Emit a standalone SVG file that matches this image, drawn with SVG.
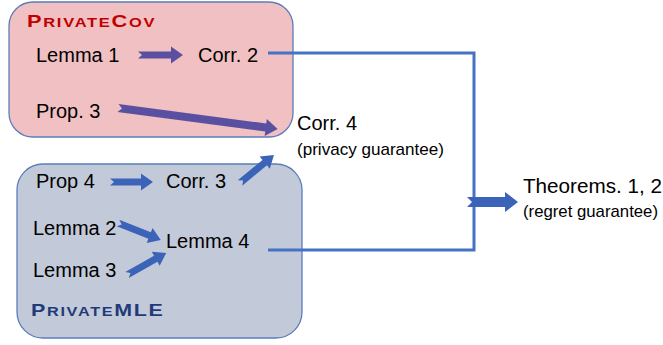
<svg xmlns="http://www.w3.org/2000/svg" width="663" height="345" viewBox="0 0 663 345">
<style>
  .lbl { font-family: "Liberation Sans", Arial, sans-serif; font-size: 20px; fill: #000; }
  .sub { font-family: "Liberation Sans", Arial, sans-serif; font-size: 17px; fill: #000; }
  .title { font-family: "Liberation Sans", Arial, sans-serif; font-weight: bold; letter-spacing: 1.3px; }
  .big { font-size: 16.5px; }
  .small { font-size: 12.5px; }
  .arrP { fill: #5a50a2; }
  .arrB { fill: #3b64b8; }
  .wire { fill: none; stroke: #4472c4; stroke-width: 3; }
</style>
<rect width="663" height="345" fill="#ffffff"/>

<g id="PrivateCov">
  <rect x="9" y="2" width="284" height="135" rx="24" ry="24" fill="#f0c0c2" stroke="#5b7dbb" stroke-width="1.3"/>
  <text class="title" fill="#c00000" transform="translate(27,26.5) scale(1.32,1)"><tspan class="big">P</tspan><tspan class="small">RIVATE</tspan><tspan class="big">C</tspan><tspan class="small">OV</tspan></text>
</g>
<g id="PrivateMLE">
  <rect x="17" y="164" width="285" height="174" rx="26" ry="26" fill="#c2c9d9" stroke="#5b7dbb" stroke-width="1.3"/>
  <text class="title" fill="#1f3a7a" transform="translate(31,316) scale(1.3,1)"><tspan class="big">P</tspan><tspan class="small">RIVATE</tspan><tspan class="big">MLE</tspan></text>
</g>

<g id="connectors">
  <path class="wire" d="M268,53 H474 V250 H268"/>
  <!-- Lemma1 -> Corr2 -->
  <path class="arrP" transform="translate(138,55)" d="M0,-3.5 L33,-3.5 L33,-8.5 L45,0 L33,8.5 L33,3.5 L0,3.5 L4,0 Z"/>
  <!-- Prop3 -> Corr4 -->
  <path class="arrP" transform="translate(118,108) rotate(7.5)" d="M0,-4 L149,-4 L149,-8.5 L161,0 L149,8.5 L149,4 L0,4 L4,0 Z"/>
  <!-- Prop4 -> Corr3 -->
  <path class="arrB" transform="translate(110,182)" d="M0,-3.5 L31,-3.5 L31,-8.5 L43,0 L31,8.5 L31,3.5 L0,3.5 L4,0 Z"/>
  <!-- Corr3 -> Corr4 -->
  <path class="arrB" transform="translate(240,183) rotate(-39.5)" d="M0,-3.5 L32,-3.5 L32,-8 L44,0 L32,8 L32,3.5 L0,3.5 L4,0 Z"/>
  <!-- Lemma2 -> Lemma4 -->
  <path class="arrB" transform="translate(118,223) rotate(21.6)" d="M0,-3.5 L34,-3.5 L34,-8 L46,0 L34,8 L34,3.5 L0,3.5 L4,0 Z"/>
  <!-- Lemma3 -> Lemma4 -->
  <path class="arrB" transform="translate(127,275) rotate(-29.4)" d="M0,-3.5 L33,-3.5 L33,-8 L45,0 L33,8 L33,3.5 L0,3.5 L4,0 Z"/>
  <!-- merge -> Theorems -->
  <path class="arrB" transform="translate(467,202)" d="M0,-5 L38,-5 L38,-10 L51,0 L38,10 L38,5 L0,5 L5,0 Z"/>
</g>

<g id="lemma1"><text class="lbl" x="36" y="62">Lemma 1</text></g>
<g id="corr2"><text class="lbl" x="198" y="62">Corr. 2</text></g>
<g id="prop3"><text class="lbl" x="36" y="118">Prop. 3</text></g>
<g id="corr4">
  <text class="lbl" x="297" y="130">Corr. 4</text>
  <text class="sub" x="297" y="155" textLength="147" lengthAdjust="spacingAndGlyphs">(privacy guarantee)</text>
</g>
<g id="prop4"><text class="lbl" x="36" y="188">Prop 4</text></g>
<g id="corr3"><text class="lbl" x="166" y="188">Corr. 3</text></g>
<g id="lemma2"><text class="lbl" x="33" y="235">Lemma 2</text></g>
<g id="lemma3"><text class="lbl" x="33" y="277">Lemma 3</text></g>
<g id="lemma4"><text class="lbl" x="166" y="248">Lemma 4</text></g>
<g id="theorems">
  <text class="lbl" x="523" y="193" textLength="139" lengthAdjust="spacingAndGlyphs">Theorems. 1, 2</text>
  <text class="sub" x="523" y="217" textLength="135" lengthAdjust="spacingAndGlyphs">(regret guarantee)</text>
</g>
</svg>
